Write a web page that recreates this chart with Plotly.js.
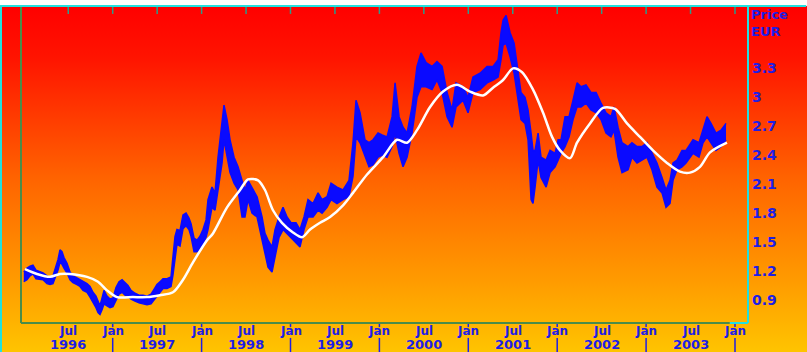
<!DOCTYPE html>
<html>
<head>
<meta charset="utf-8">
<script src="https://cdn.plot.ly/plotly-3.0.1.min.js"></script>
<style>
  html, body { margin:0; padding:0; background:#ffffff; }
  #wrap { position:absolute; left:0; top:0; width:807px; height:352px; overflow:hidden; }
  #bg { position:absolute; left:0; top:6px; width:807px; height:346px; box-sizing:border-box;
        border-left:2px solid #22e0e0;
        background:linear-gradient(to bottom, #ff0000 0%, #ff1400 15%, #ff6400 50%, #ff9c00 80%, #ffc400 100%); }
  #chart { position:absolute; left:0; top:0; width:807px; height:352px; }
</style>
</head>
<body>
<div id="wrap"><div id="bg"></div><div id="chart"></div></div>
<script>
// ---- data (time in decimal years, price in EUR) ----
const priceYears = [1996.000,1996.036,1996.070,1996.103,1996.137,1996.182,1996.216,1996.261,1996.295,1996.328,1996.362,1996.385,1996.407,1996.430,1996.452,1996.486,1996.520,1996.553,1996.598,1996.632,1996.666,1996.711,1996.745,1996.778,1996.812,1996.835,1996.857,1996.880,1996.902,1996.936,1996.970,
1997.003,1997.037,1997.071,1997.105,1997.138,1997.172,1997.206,1997.251,1997.296,1997.341,1997.386,1997.431,1997.465,1997.498,1997.532,1997.566,1997.611,1997.656,1997.678,1997.701,1997.723,1997.757,1997.791,1997.825,1997.858,1997.881,1997.915,1997.948,1997.982,
1998.016,1998.050,1998.072,1998.117,1998.151,1998.185,1998.230,1998.252,1998.286,1998.320,1998.365,1998.410,1998.455,1998.488,1998.522,1998.567,1998.624,1998.680,1998.713,1998.747,1998.792,1998.826,1998.871,1998.916,1998.961,
1999.006,1999.062,1999.107,1999.152,1999.197,1999.253,1999.310,1999.355,1999.411,1999.456,1999.523,1999.591,1999.658,1999.703,1999.737,1999.782,1999.838,1999.883,1999.928,1999.985,
2000.030,2000.086,2000.143,2000.176,2000.221,2000.266,2000.311,2000.367,2000.423,2000.468,2000.525,2000.592,2000.648,2000.705,2000.761,2000.817,2000.862,2000.941,2000.997,
2001.053,2001.132,2001.211,2001.278,2001.335,2001.368,2001.391,2001.425,2001.470,2001.515,2001.560,2001.593,2001.638,2001.672,2001.706,2001.728,2001.751,2001.785,2001.818,2001.875,2001.920,2001.976,
2002.010,2002.043,2002.088,2002.133,2002.178,2002.223,2002.268,2002.324,2002.380,2002.437,2002.493,2002.549,2002.605,2002.639,2002.684,2002.729,2002.797,2002.841,2002.898,2002.954,
2003.010,2003.066,2003.122,2003.179,2003.224,2003.269,2003.303,2003.348,2003.404,2003.449,2003.528,2003.595,2003.640,2003.685,2003.730,2003.786,2003.843,2003.899];

const priceHigh = [1.19,1.23,1.25,1.26,1.21,1.19,1.18,1.15,1.13,1.15,1.24,1.32,1.42,1.40,1.34,1.28,1.19,1.15,1.13,1.11,1.09,1.07,1.04,0.98,0.94,0.88,0.84,0.92,1.00,0.94,0.91,
0.92,1.03,1.09,1.11,1.08,1.05,1.00,0.97,0.95,0.95,0.94,0.96,1.01,1.06,1.09,1.12,1.12,1.14,1.35,1.56,1.63,1.62,1.78,1.80,1.75,1.69,1.54,1.52,1.56,
1.63,1.73,1.94,2.07,2.01,2.38,2.77,2.92,2.77,2.56,2.38,2.28,2.14,2.04,2.14,2.07,1.97,1.76,1.59,1.52,1.45,1.63,1.76,1.86,1.76,
1.70,1.70,1.63,1.76,1.94,1.90,2.01,1.94,1.97,2.11,2.07,2.04,2.14,2.53,2.97,2.84,2.56,2.53,2.56,2.63,
2.61,2.59,2.80,3.15,2.80,2.69,2.63,2.90,3.32,3.46,3.36,3.32,3.37,3.32,3.05,2.87,3.15,3.11,3.00,
3.21,3.25,3.32,3.32,3.39,3.67,3.80,3.85,3.67,3.56,3.28,3.05,3.00,2.87,2.63,2.45,2.45,2.63,2.38,2.35,2.45,2.42,
2.56,2.56,2.80,2.80,2.97,3.15,3.11,3.13,3.05,3.05,2.94,2.84,2.80,2.90,2.69,2.53,2.49,2.53,2.49,2.49,
2.53,2.42,2.32,2.17,2.04,2.14,2.32,2.35,2.45,2.45,2.56,2.53,2.66,2.80,2.73,2.63,2.66,2.73];

const priceLow = [1.09,1.11,1.15,1.17,1.12,1.11,1.11,1.07,1.06,1.07,1.15,1.21,1.29,1.27,1.23,1.18,1.11,1.08,1.06,1.04,1.00,0.98,0.93,0.88,0.82,0.77,0.75,0.80,0.86,0.84,0.82,
0.83,0.90,0.96,0.98,0.95,0.94,0.91,0.89,0.87,0.86,0.85,0.86,0.90,0.95,0.98,1.02,1.02,1.04,1.16,1.35,1.48,1.46,1.64,1.67,1.63,1.56,1.40,1.40,1.42,
1.48,1.55,1.63,1.86,1.83,2.04,2.32,2.56,2.38,2.22,2.11,2.04,1.76,1.76,1.94,1.80,1.76,1.52,1.35,1.24,1.19,1.35,1.55,1.63,1.59,
1.55,1.49,1.45,1.63,1.76,1.76,1.83,1.80,1.86,1.94,1.90,1.94,1.97,2.18,2.59,2.53,2.38,2.28,2.30,2.38,
2.40,2.38,2.49,2.63,2.42,2.28,2.38,2.63,3.00,3.11,3.11,3.08,3.18,3.05,2.80,2.69,2.90,2.97,2.84,
3.05,3.08,3.15,3.18,3.21,3.39,3.54,3.56,3.42,3.25,2.94,2.77,2.73,2.56,1.94,1.90,2.07,2.35,2.17,2.07,2.22,2.28,
2.35,2.42,2.49,2.59,2.77,2.90,2.90,2.94,2.87,2.84,2.77,2.63,2.59,2.66,2.38,2.22,2.25,2.38,2.32,2.35,
2.38,2.25,2.07,2.01,1.86,1.90,2.14,2.25,2.28,2.32,2.42,2.38,2.53,2.59,2.53,2.45,2.49,2.56];

const avgYears = [1996.013,1996.148,1996.295,1996.407,1996.520,1996.711,1996.835,1996.936,
1997.048,1997.228,1997.386,1997.532,1997.678,1997.791,1997.903,
1998.061,1998.128,1998.286,1998.432,1998.522,1998.635,1998.713,1998.803,1998.904,
1999.028,1999.130,1999.220,1999.332,1999.445,1999.591,1999.703,1999.861,
2000.041,2000.198,2000.311,2000.423,2000.570,2000.716,2000.873,
2001.019,2001.166,2001.278,2001.391,2001.503,2001.605,2001.728,2001.841,2001.942,
2002.032,2002.145,2002.223,2002.369,2002.515,2002.650,2002.785,2002.931,
2003.077,2003.235,2003.381,2003.494,2003.606,2003.719,2003.910];
const avgValues = [1.22,1.17,1.14,1.17,1.17,1.14,1.09,1.00,
0.93,0.93,0.93,0.95,0.98,1.11,1.29,
1.52,1.59,1.86,2.04,2.15,2.14,2.04,1.83,1.70,
1.60,1.55,1.63,1.70,1.76,1.88,2.01,2.20,
2.38,2.56,2.53,2.66,2.90,3.06,3.13,
3.06,3.02,3.10,3.18,3.30,3.26,3.08,2.84,2.59,
2.45,2.37,2.53,2.73,2.89,2.88,2.73,2.59,
2.45,2.32,2.23,2.22,2.28,2.43,2.53];

const monthTickVals = [1996.5,1997,1997.5,1998,1998.5,1999,1999.5,2000,2000.5,2001,2001.5,2002,2002.5,2003,2003.5,2004];
const monthTickText = ['Jul','Jan','Jul','Jan','Jul','Jan','Jul','Jan','Jul','Jan','Jul','Jan','Jul','Jan','Jul','Jan'];
const yearLabels = ['1996','1997','1998','1999','2000','2001','2002','2003'];
const yearStarts = [1997,1998,1999,2000,2001,2002,2003,2004];
const priceTickVals = [0.9,1.2,1.5,1.8,2.1,2.4,2.7,3.0,3.3];
const priceTickText = ['0.9','1.2','1.5','1.8','2.1','2.4','2.7','3','3.3'];

// ---- styling ----
const BLUE_TXT = '#1e1ee6';
const BLUE_LINE = '#0a0aff';
const FONT = 'DejaVu Sans, Verdana, sans-serif';
const CYAN = '#22e0e0';
const OLIVE = '#4a8c4a';
const TEAL = '#2a9d8a';

const traces = [
  { x: priceYears, y: priceLow, type: 'scatter', mode: 'lines',
    line: { color: BLUE_LINE, width: 1.5 }, hoverinfo: 'skip', showlegend: false },
  { x: priceYears, y: priceHigh, type: 'scatter', mode: 'lines', fill: 'tonexty',
    fillcolor: BLUE_LINE, line: { color: BLUE_LINE, width: 1.5 }, showlegend: false },
  { x: avgYears, y: avgValues, type: 'scatter', mode: 'lines',
    line: { color: '#ffffff', width: 2.5, shape: 'spline', smoothing: 0.8 }, showlegend: false }
];

const shapes = [];
yearStarts.forEach(function (yr) {
  shapes.push({ type: 'line', xref: 'x', yref: 'paper', x0: yr, x1: yr, y0: 0, y1: -0.013,
    line: { color: BLUE_TXT, width: 1.5 } });
  shapes.push({ type: 'line', xref: 'x', yref: 'paper', x0: yr, x1: yr, y0: -0.047, y1: -0.1,
    line: { color: BLUE_TXT, width: 1.5 } });
});
monthTickVals.forEach(function (t) {
  shapes.push({ type: 'line', xref: 'x', yref: 'paper', x0: t, x1: t, y0: 1, y1: 0.975,
    line: { color: TEAL, width: 1.5 } });
});
// frame
shapes.push({ type: 'line', xref: 'paper', yref: 'paper', x0: 0, x1: 0, y0: 0, y1: 1, line: { color: OLIVE, width: 2 } });
shapes.push({ type: 'line', xref: 'paper', yref: 'paper', x0: 0, x1: 0.975, y0: 0, y1: 0, line: { color: OLIVE, width: 2 } });
shapes.push({ type: 'line', xref: 'paper', yref: 'paper', x0: 0.975, x1: 1, y0: 0, y1: 0, line: { color: CYAN, width: 2 } });
shapes.push({ type: 'line', xref: 'paper', yref: 'paper', x0: 1, x1: 1, y0: 0, y1: 1, line: { color: CYAN, width: 2 } });
shapes.push({ type: 'line', xref: 'paper', yref: 'paper', x0: -0.03, x1: 1.08, y0: 1, y1: 1, line: { color: CYAN, width: 2 } });

const annotations = [];
monthTickVals.forEach(function (t, i) {
  annotations.push({ x: t, xref: 'x', y: 0, yref: 'paper', yshift: -1, text: monthTickText[i], showarrow: false,
    xanchor: 'center', yanchor: 'top', borderpad: 0, borderwidth: 0,
    font: { family: FONT, size: 12, color: BLUE_TXT, weight: 'bold' } });
});
yearLabels.forEach(function (lab, i) {
  annotations.push({ x: yearStarts[i] - 0.5, xref: 'x', y: -0.0915, yref: 'paper', text: lab, showarrow: false,
    xanchor: 'center', yanchor: 'bottom', borderpad: 0, borderwidth: 0,
    font: { family: FONT, size: 13, color: BLUE_TXT, weight: 'bold' } });
});
annotations.push({ x: 1, xref: 'paper', xanchor: 'left', xshift: 3, y: 1, yref: 'paper', yanchor: 'top', yshift: -1,
  text: 'Price<br>EUR', align: 'left', showarrow: false, borderpad: 0, borderwidth: 0,
  font: { family: FONT, size: 13, color: BLUE_TXT, weight: 'bold' } });

const layout = {
  width: 807, height: 352,
  margin: { l: 21, r: 59, t: 6, b: 29, pad: 0, autoexpand: false },
  paper_bgcolor: 'rgba(0,0,0,0)', plot_bgcolor: 'rgba(0,0,0,0)',
  showlegend: false,
  xaxis: { range: [1995.9685, 2004.1462], type: 'linear', showticklabels: false,
    ticks: '', showgrid: false, zeroline: false, showline: false, automargin: false },
  yaxis: { range: [0.6617, 3.9466], side: 'right', tickvals: priceTickVals, ticktext: priceTickText,
    ticks: '', showgrid: false, zeroline: false, showline: false, automargin: false, ticklabelstandoff: 3,
    tickfont: { family: FONT, size: 14, color: BLUE_TXT, weight: 'bold' } },
  shapes: shapes,
  annotations: annotations
};

Plotly.newPlot('chart', traces, layout, { staticPlot: true, displayModeBar: false });
</script>
</body>
</html>
